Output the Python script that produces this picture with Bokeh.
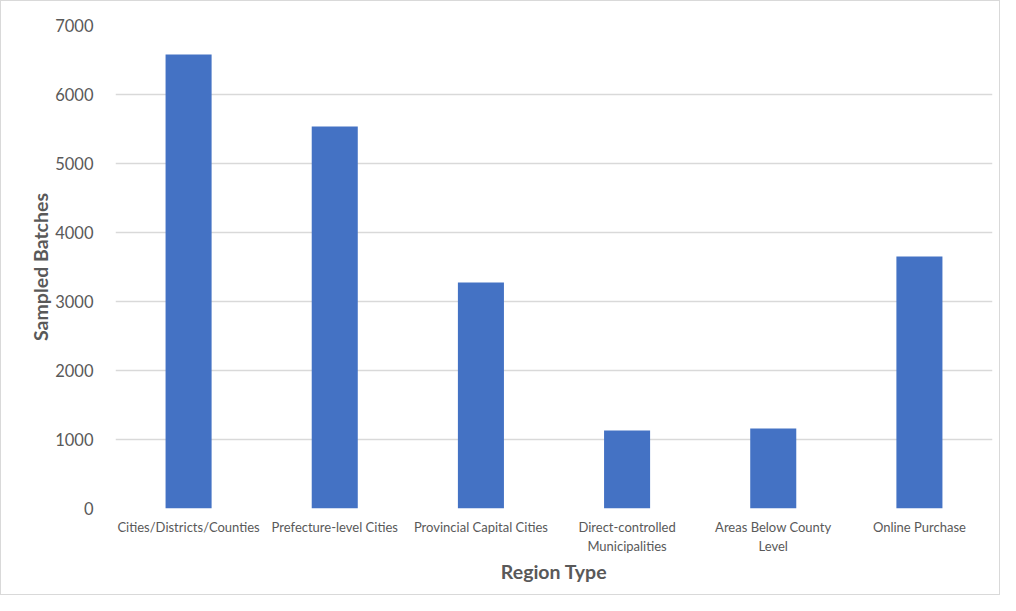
from bokeh.plotting import figure
from bokeh.models import FactorRange, Range1d, SingleIntervalTicker
from bokeh.embed import file_html
from bokeh.resources import INLINE

categories = ["Cities/Districts/Counties", "Prefecture-level Cities", "Provincial Capital Cities",
              "Direct-controlled\nMunicipalities", "Areas Below County\nLevel", "Online Purchase"]
batches = [6580, 5536, 3275, 1130, 1160, 3652]

FONT = "Lato"
GRAY = "#595959"

p = figure(width=1000, height=595, x_range=FactorRange(*categories, range_padding=0),
           y_range=Range1d(0, 7000), output_backend="svg", toolbar_location=None,
           min_border_left=114, min_border_right=9, min_border_top=24, min_border_bottom=88)
p.styles = {"border": "1px solid #d9d9d9", "box-sizing": "border-box"}

p.vbar(x=categories, top=batches, width=0.315, color="#4472C4", line_color=None)

p.outline_line_color = None
p.xgrid.grid_line_color = None
p.ygrid.grid_line_color = "#d9d9d9"
p.ygrid.grid_line_width = 1.3
p.yaxis.ticker = SingleIntervalTicker(interval=1000)

for ax in (p.xaxis, p.yaxis):
    ax.axis_line_color = None
    ax.major_tick_line_color = None
    ax.minor_tick_line_color = None
    ax.major_label_text_font = FONT
    ax.major_label_text_color = GRAY
    ax.axis_label_text_font = FONT
    ax.axis_label_text_color = GRAY
    ax.axis_label_text_font_style = "bold"
    ax.axis_label_text_font_size = "19.5px"

p.yaxis.major_label_text_font_size = "16.5px"
p.yaxis.major_label_standoff = 16
p.yaxis.axis_label = "Sampled Batches"
p.yaxis.axis_label_standoff = 0

p.xaxis.major_label_text_font_size = "13px"
p.xaxis.major_label_standoff = 4
p.xaxis.axis_label = "Region Type"
p.xaxis.axis_label_standoff = 3

open("out.html", "w").write(file_html(p, INLINE))
